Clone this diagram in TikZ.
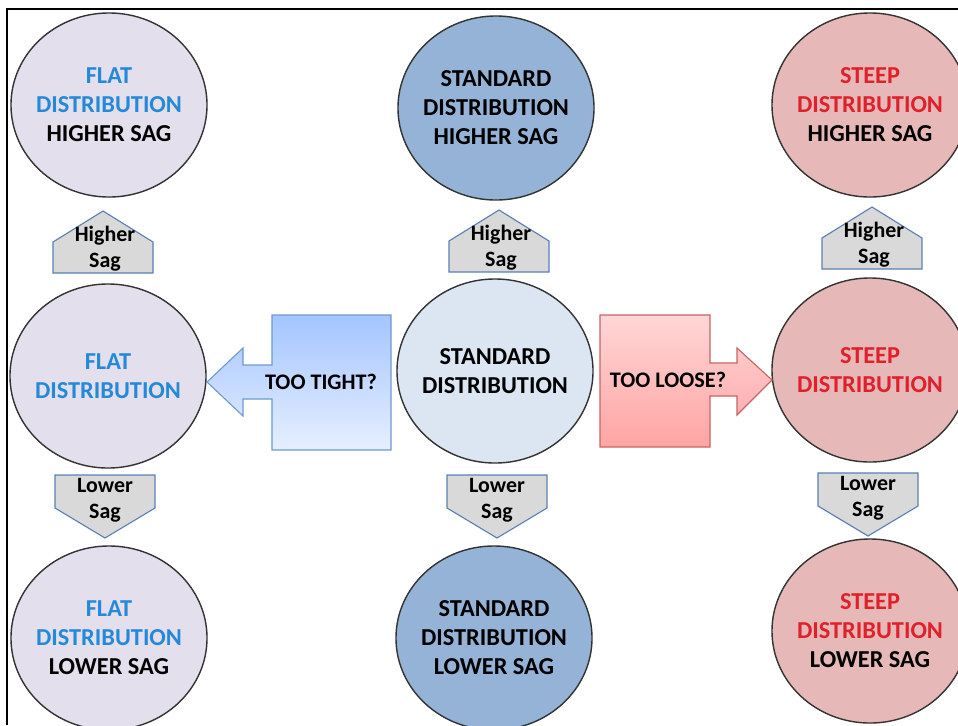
\documentclass[tikz,border=0pt]{standalone}
\usepackage{fontspec}
\setmainfont{Carlito}
\usetikzlibrary{shapes.geometric}
\definecolor{flatfill}{HTML}{E4DFEC}
\definecolor{flatblue}{HTML}{2589DA}
\definecolor{stdfill}{HTML}{95B3D7}
\definecolor{stdlight}{HTML}{DCE6F2}
\definecolor{steepfill}{HTML}{E6B9B8}
\definecolor{steepred}{HTML}{E0202A}
\definecolor{saggray}{HTML}{D9D9D9}
\definecolor{sagline}{HTML}{5B7FB5}
\definecolor{tighttop}{HTML}{A4C5FF}
\definecolor{tightbot}{HTML}{E6EFFF}
\definecolor{tightline}{HTML}{6E9AD0}
\definecolor{loosetop}{HTML}{FFD6D6}
\definecolor{loosebot}{HTML}{FFA4A4}
\definecolor{looseline}{HTML}{C86464}

\begin{document}
\begin{tikzpicture}[
  x=0.025cm, y=-0.025cm,
  disc/.style={ellipse, draw=black!80, line width=1pt,
    minimum width=4.9cm, minimum height=4.6cm,
    inner xsep=-4pt, inner ysep=0pt, align=center,
    font=\fontsize{17.3}{20.6}\selectfont\bfseries},
  flat/.style={disc, fill=flatfill, text=flatblue},
  std/.style={disc, fill=stdfill},
  steep/.style={disc, fill=steepfill, text=steepred},
  sagshape/.style={draw=sagline, fill=saggray, line width=0.8pt},
  sagtext/.style={align=center, inner sep=0pt,
    font=\fontsize{15.6}{18.5}\selectfont\bfseries},
  bigtext/.style={font=\fontsize{15.8}{19}\selectfont\bfseries}
]
\useasboundingbox (0,0) rectangle (958,725);
\draw[line width=1.4pt] (7,725) -- (7,9) -- (958,9);

% top row
\node[flat] (flathigh) at (109,105) {FLAT\\DISTRIBUTION\\\textcolor{black}{HIGHER SAG}};
\node[std] (stdhigh) at (496,108) {STANDARD\\DISTRIBUTION\\HIGHER SAG};
\node[steep] (steephigh) at (870,105) {STEEP\\DISTRIBUTION\\\textcolor{black}{HIGHER SAG}};

% middle row
\node[flat] (flatmid) at (108,376) {FLAT\\DISTRIBUTION};
\node[disc, fill=stdlight] (stdmid) at (495,371) {STANDARD\\DISTRIBUTION};
\node[steep] (steepmid) at (870,370) {STEEP\\DISTRIBUTION};

% bottom row
\node[flat] (flatlow) at (109,638) {FLAT\\DISTRIBUTION\\\textcolor{black}{LOWER SAG}};
\node[std] (stdlow) at (494,638) {STANDARD\\DISTRIBUTION\\LOWER SAG};
\node[steep] (steeplow) at (870,631) {STEEP\\DISTRIBUTION\\\textcolor{black}{LOWER SAG}};

% sag markers
\foreach \n/\x/\y in {uplf/103/211, upmd/499/210, uprt/872/207} {
  \draw[sagshape] (\x,\y) -- (\x+50,\y+31) -- (\x+50,\y+62)
    -- (\x-50,\y+62) -- (\x-50,\y+31) -- cycle;
  \node[sagtext] (\n) at (\x+2,\y+38) {Higher\\Sag};
}
\foreach \n/\x/\y in {dnlf/105/475, dnmd/497/475, dnrt/868/473} {
  \draw[sagshape] (\x-50,\y) -- (\x+50,\y) -- (\x+50,\y+33)
    -- (\x,\y+63) -- (\x-50,\y+33) -- cycle;
  \node[sagtext] (\n) at (\x,\y+25) {Lower\\Sag};
}

% too tight / too loose
\draw[draw=tightline, line width=0.8pt, top color=tighttop, bottom color=tightbot]
  (391,315) -- (272,315) -- (272,365) -- (243,365) -- (243,348) -- (207,382)
  -- (243,416) -- (243,399) -- (272,399) -- (272,450) -- (391,450) -- cycle;
\node[bigtext] (tight) at (321,382) {TOO TIGHT?};
\draw[draw=looseline, line width=0.8pt, top color=loosetop, bottom color=loosebot]
  (600,315) -- (710,315) -- (710,363) -- (737,363) -- (737,348) -- (772,380)
  -- (737,415) -- (737,396) -- (710,396) -- (710,447) -- (600,447) -- cycle;
\node[bigtext] (loose) at (668,380) {TOO LOOSE?};
\end{tikzpicture}
\end{document}
